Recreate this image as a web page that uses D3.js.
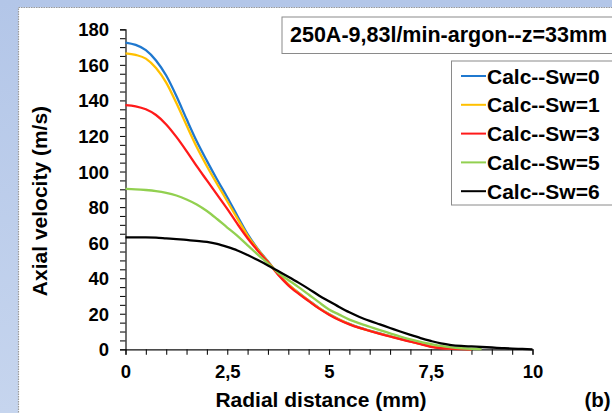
<!DOCTYPE html>
<html>
<head>
<meta charset="utf-8">
<script src="https://cdn.jsdelivr.net/npm/d3@7"></script>
<style>
  html, body { margin: 0; padding: 0; }
  body { width: 612px; height: 413px; overflow: hidden; }
  svg { display: block; font-family: "Liberation Sans", Arial, sans-serif; font-weight: bold; }
</style>
</head>
<body>
<svg id="chart" width="612" height="413"></svg>
<script>
// Radial positions (mm), shared by every profile
const radius = d3.range(0, 10.0001, 0.25).map(v => +v.toFixed(2));

// Axial velocity profiles (m/s); null = no data beyond the profile's end
const sw0 = [172.5,171.2,168.3,162.5,154,142.5,129.5,117,106,95.5,85.5,75,64.8,56.5,49.5,42.4,36.6,31.8,27.5,23.3,19.8,16.8,14.3,12.2,10.5,8.9,7.4,5.9,4.5,3.1,1.7,0.9,0.4,0.2,0,null,null,null,null,null,null];
const sw1 = [166.5,165.6,163.5,158.2,150,138.5,126,113.8,103,93,83.3,73.5,64,56.2,49.3,42.4,36.5,31.7,27.4,23.2,19.7,16.7,14.2,12.1,10.4,8.8,7.3,5.8,4.4,3,1.6,0.8,0.4,0.2,0,null,null,null,null,null,null];
const sw3 = [137.3,136.7,135,131.8,126.5,119.5,111.5,103,95,87,79,70.5,62.5,55.5,49,42,36,31.3,27.1,23,19.5,16.5,14,12,10.3,8.7,7.2,5.7,4.3,2.9,1.4,0.6,0.3,0.1,0,null,null,null,null,null,null];
const sw5 = [90.2,90,89.6,89,88,86.5,84.3,81.5,77.8,73.3,68.5,63.8,58.5,53.3,48.3,43,39,35,30.8,26.5,22.4,19.5,16.7,14.6,12.7,10.8,9,7.2,5.6,4.2,3,1.9,1.1,0.6,0.3,0.1,null,null,null,null,null];
const sw6 = [63,63,63,62.8,62.4,62,61.5,61,60.4,59.3,57.6,55.6,53,50.2,47.2,44,40.8,37.5,34,30.3,27,23.8,20.8,18.2,16,14,12,10,8.1,6.3,4.7,3.3,2.4,1.9,1.6,1.3,1,0.7,0.4,0.2,0];

const seriesNames = ["Calc--Sw=0", "Calc--Sw=1", "Calc--Sw=3", "Calc--Sw=5", "Calc--Sw=6"];
const seriesValues = [sw0, sw1, sw3, sw5, sw6];
const seriesColors = ["#1f78cf", "#ffc000", "#ff1a1a", "#92d050", "#000000"];

const xTickValues = d3.range(0, 10.0001, 0.5);
const xTickLabels = { 0: "0", 2.5: "2,5", 5: "5", 7.5: "7,5", 10: "10" };
const yTickValues = d3.range(0, 181, 5);
const yLabelStep = 20;

const titleText = "250A-9,83l/min-argon--z=33mm";
const xTitle = "Radial distance (mm)";
const yTitle = "Axial velocity (m/s)";
const panelTag = "(b)";

const svg = d3.select("#chart");

// Background and white plotting panel
const defs = svg.append("defs");
const grad = defs.append("linearGradient").attr("id", "bg").attr("x1", 0).attr("y1", 0).attr("x2", 0).attr("y2", 1);
grad.append("stop").attr("offset", "0%").attr("stop-color", "#b3c6e8");
grad.append("stop").attr("offset", "100%").attr("stop-color", "#c6d5ee");
svg.append("rect").attr("width", 612).attr("height", 413).attr("fill", "url(#bg)");
svg.append("rect").attr("x", 18.5).attr("y", 7.5).attr("width", 620).attr("height", 420)
  .attr("fill", "#ffffff").attr("stroke", "#9a9a9a").attr("stroke-width", 1.2).attr("stroke-dasharray", "1.5,1");

// Scales
const x = d3.scaleLinear().domain([0, 10]).range([125.5, 532.5]);
const y = d3.scaleLinear().domain([0, 180]).range([349.3, 29.3]);

// Axes
const xAxis = d3.axisBottom(x).tickValues(xTickValues).tickSize(5.5).tickPadding(6)
  .tickFormat(d => xTickLabels[d] !== undefined ? xTickLabels[d] : "");
const yAxis = d3.axisLeft(y).tickValues(yTickValues).tickSize(5.5).tickPadding(11)
  .tickFormat(d => d % yLabelStep === 0 ? String(d) : "");

const gx = svg.append("g").attr("transform", `translate(0,${y(0)})`).call(xAxis);
const gy = svg.append("g").attr("transform", `translate(${x(0)},0)`).call(yAxis);
[gx, gy].forEach(g => {
  g.select(".domain").attr("stroke", "#111").attr("stroke-width", 1.2);
  g.selectAll(".tick line").attr("stroke", "#111").attr("stroke-width", 1.1);
  g.selectAll(".tick text").attr("fill", "#000").style("font-size", "18.5px")
    .style("font-family", '"Liberation Sans", Arial, sans-serif').style("font-weight", "bold");
});
gx.selectAll(".tick text").attr("dy", "0.95em");
gy.selectAll(".tick text").attr("dy", "0.35em");

// Profiles
const line = d3.line()
  .defined(d => d.v !== null)
  .x(d => x(d.r))
  .y(d => y(d.v))
  .curve(d3.curveMonotoneX);

seriesValues.forEach((vals, i) => {
  const pts = radius.map((r, k) => ({ r: r, v: vals[k] }));
  svg.append("path").datum(pts)
    .attr("fill", "none")
    .attr("stroke", seriesColors[i])
    .attr("stroke-width", 2.3)
    .attr("stroke-linejoin", "round")
    .attr("d", line);
});

// Axis titles
svg.append("text").attr("x", 321).attr("y", 407).attr("text-anchor", "middle")
  .style("font-size", "21px").attr("fill", "#000").text(xTitle);
svg.append("text").attr("transform", "translate(47,201) rotate(-90)").attr("text-anchor", "middle")
  .style("font-size", "21px").attr("fill", "#000").text(yTitle);
svg.append("text").attr("x", 584.5).attr("y", 407)
  .style("font-size", "20.5px").attr("fill", "#000").text(panelTag);

// Title box
svg.append("rect").attr("x", 282).attr("y", 17).attr("width", 340).attr("height", 36.5)
  .attr("fill", "#fff").attr("stroke", "#8a8a8a").attr("stroke-width", 1);
svg.append("text").attr("x", 290).attr("y", 42).style("font-size", "21.5px").attr("fill", "#000").text(titleText);

// Legend
svg.append("rect").attr("x", 451.5).attr("y", 61).attr("width", 170).attr("height", 144)
  .attr("fill", "#fff").attr("stroke", "#8a8a8a").attr("stroke-width", 1);
const leg = svg.append("g");
seriesNames.forEach((name, i) => {
  const ly = 76 + i * 28.8;
  leg.append("line").attr("x1", 461).attr("x2", 486).attr("y1", ly).attr("y2", ly)
    .attr("stroke", seriesColors[i]).attr("stroke-width", 2);
  leg.append("text").attr("x", 487).attr("y", ly).attr("dy", "0.36em")
    .style("font-size", "21px").attr("fill", "#000").text(name);
});
</script>
</body>
</html>
